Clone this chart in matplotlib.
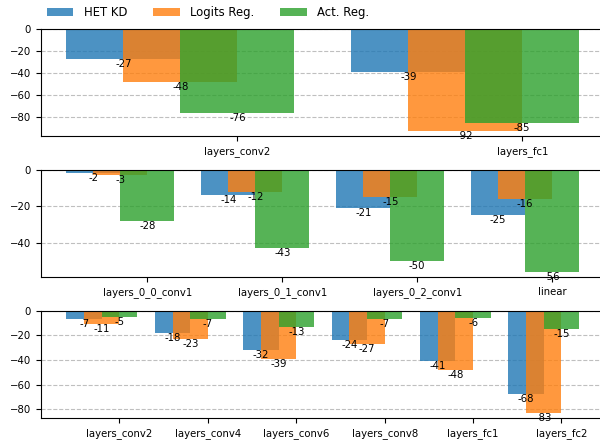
import numpy as np
import matplotlib
matplotlib.use("Agg")
import matplotlib.pyplot as plt

SERIES = ["HET KD", "Logits Reg.", "Act. Reg."]
COLORS = ["#1f77b4", "#ff7f0e", "#2ca02c"]

# panel 1
cats_1 = ["layers_conv2", "layers_fc1"]
het_1 = [-27, -39]
logits_1 = [-48, -92]
act_1 = [-76, -85]

# panel 2
cats_2 = ["layers_0_0_conv1", "layers_0_1_conv1", "layers_0_2_conv1", "linear"]
het_2 = [-2, -14, -21, -25]
logits_2 = [-3, -12, -15, -16]
act_2 = [-28, -43, -50, -56]

# panel 3
cats_3 = ["layers_conv2", "layers_conv4", "layers_conv6", "layers_conv8",
          "layers_fc1", "layers_fc2"]
het_3 = [-7, -18, -32, -24, -41, -68]
logits_3 = [-11, -23, -39, -27, -48, -83]
act_3 = [-5, -7, -13, -7, -6, -15]

panels = [
    (cats_1, [het_1, logits_1, act_1]),
    (cats_2, [het_2, logits_2, act_2]),
    (cats_3, [het_3, logits_3, act_3]),
]

FS = 7.3
width = 0.4

fig, axes = plt.subplots(3, 1, figsize=(6, 4.4), dpi=100)
fig.subplots_adjust(left=0.068, right=1.008, top=0.935, bottom=0.05, hspace=0.315)

for ax, (cats, vals) in zip(axes, panels):
    x = np.arange(len(cats))
    for i, (name, v, c) in enumerate(zip(SERIES, vals, COLORS)):
        pos = x + (i - 2) * width / 2
        ax.bar(pos, v, width, color=c, alpha=0.8, label=name, zorder=2)
        for p, val in zip(pos, v):
            ax.text(p, val, f"{val:.0f}", ha="center", va="top",
                    fontsize=FS, zorder=3)
    ax.set_xticks(x)
    ax.set_xticklabels(cats, fontsize=FS)
    ax.tick_params(axis="y", labelsize=FS)
    ax.yaxis.grid(True, linestyle="--", color="#b0b0b0", alpha=0.8, zorder=0)
    ax.set_axisbelow(True)

handles, labels = axes[0].get_legend_handles_labels()
fig.legend(handles, labels, loc="upper left", bbox_to_anchor=(0.06, 1.01),
           ncol=3, frameon=False, fontsize=8.4, handlelength=2.3,
           columnspacing=2.2, handletextpad=0.9)

fig.savefig("out.png", dpi=100)
